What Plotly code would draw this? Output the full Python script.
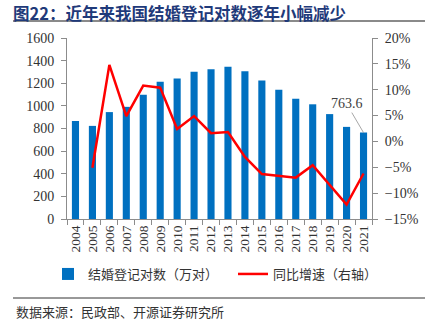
import plotly.graph_objects as go

years = ["2004","2005","2006","2007","2008","2009","2010","2011","2012",
         "2013","2014","2015","2016","2017","2018","2019","2020","2021"]
marriages = [867.2, 823.1, 945.0, 991.4, 1098.3, 1212.4, 1241.0, 1302.4, 1323.6,
             1346.9, 1306.7, 1224.7, 1142.8, 1063.1, 1013.9, 927.3, 814.3, 763.6]
growth_years = years[1:]
growth = [-5.1, 14.8, 4.9, 10.8, 10.4, 2.4, 4.9, 1.6, 1.8,
          -3.0, -6.3, -6.7, -7.0, -4.6, -8.5, -12.2, -6.2]

W, H = 430, 327
L, R, T, B = 67, 372, 38, 219  # plot area in px

def px(x):
    return (x - L) / (R - L)

def py(y):
    return (B - y) / (B - T)

serif = "Liberation Serif"
cjk = "Noto Sans CJK SC"
axis_col = "#8c8c8c"

fig = go.Figure()
fig.add_trace(go.Bar(x=years, y=marriages, name="结婚登记对数（万对）",
                     marker=dict(color="#0070C0", line=dict(width=0)), width=0.42))
fig.add_trace(go.Scatter(x=growth_years, y=growth, name="同比增速（右轴）", yaxis="y2",
                         mode="lines", line=dict(color="#FF0000", width=2.5)))

fig.add_annotation(x=len(years) - 1, y=marriages[-1], xref="x", yref="y", text="763.6",
                   showarrow=True, arrowhead=0, arrowwidth=0.8, arrowcolor="#909090",
                   ax=-17, ay=-29, font=dict(family=serif, size=14, color="#404040"))

fig.update_layout(
    width=W, height=H,
    margin=dict(l=L, r=W - R, t=T, b=H - B),
    paper_bgcolor="white", plot_bgcolor="white",
    showlegend=True,
    legend=dict(orientation="h", x=px(48), y=py(274), xanchor="left", yanchor="middle",
                font=dict(family=cjk, size=13, color="#333333"),
                entrywidth=140, entrywidthmode="pixels",
                itemwidth=30, tracegroupgap=0, bgcolor="rgba(0,0,0,0)"),
    xaxis=dict(type="category", range=[-0.5, len(years) - 0.5], tickangle=-90,
               tickmode="linear", dtick=1, tick0=0,
               showline=True, linecolor=axis_col,
               linewidth=1, ticks="outside", tickson="boundaries", ticklen=5,
               tickcolor=axis_col, showgrid=False,
               tickfont=dict(family=serif, size=13.5, color="#333333")),
    yaxis=dict(range=[0, 1600], dtick=200, showline=True, linecolor=axis_col,
               ticks="outside", ticklen=5, tickcolor=axis_col, showgrid=False,
               zeroline=False, ticklabelstandoff=4,
               tickfont=dict(family=serif, size=14, color="#333333")),
    yaxis2=dict(range=[-15, 20], dtick=5, overlaying="y", side="right",
                ticksuffix="%", showline=True, linecolor=axis_col,
                ticks="outside", ticklen=5, tickcolor=axis_col, showgrid=False,
                zeroline=False, ticklabelstandoff=4,
                tickfont=dict(family=serif, size=14, color="#333333")),
)

# title as annotation
fig.add_annotation(xref="paper", yref="paper", x=px(12), y=py(0), xanchor="left",
                   yanchor="top", showarrow=False, borderpad=0,
                   text="<b>图22：近年来我国结婚登记对数逐年小幅减少</b>",
                   font=dict(family=cjk, size=16.5, color="#1F3A7A"))

# title underline and footer rule
fig.add_shape(type="line", xref="paper", yref="paper", x0=px(13), x1=px(425),
              y0=py(21), y1=py(21), line=dict(color="#8a8a8a", width=2))
fig.add_shape(type="line", xref="paper", yref="paper", x0=px(13), x1=px(425),
              y0=py(298), y1=py(298), line=dict(color="#333333", width=1))
fig.add_annotation(xref="paper", yref="paper", x=px(14), y=py(311), xanchor="left",
                   yanchor="middle", showarrow=False, text="数据来源：民政部、开源证券研究所",
                   font=dict(family=cjk, size=13, color="#333333"))

fig.write_html("out.html")
